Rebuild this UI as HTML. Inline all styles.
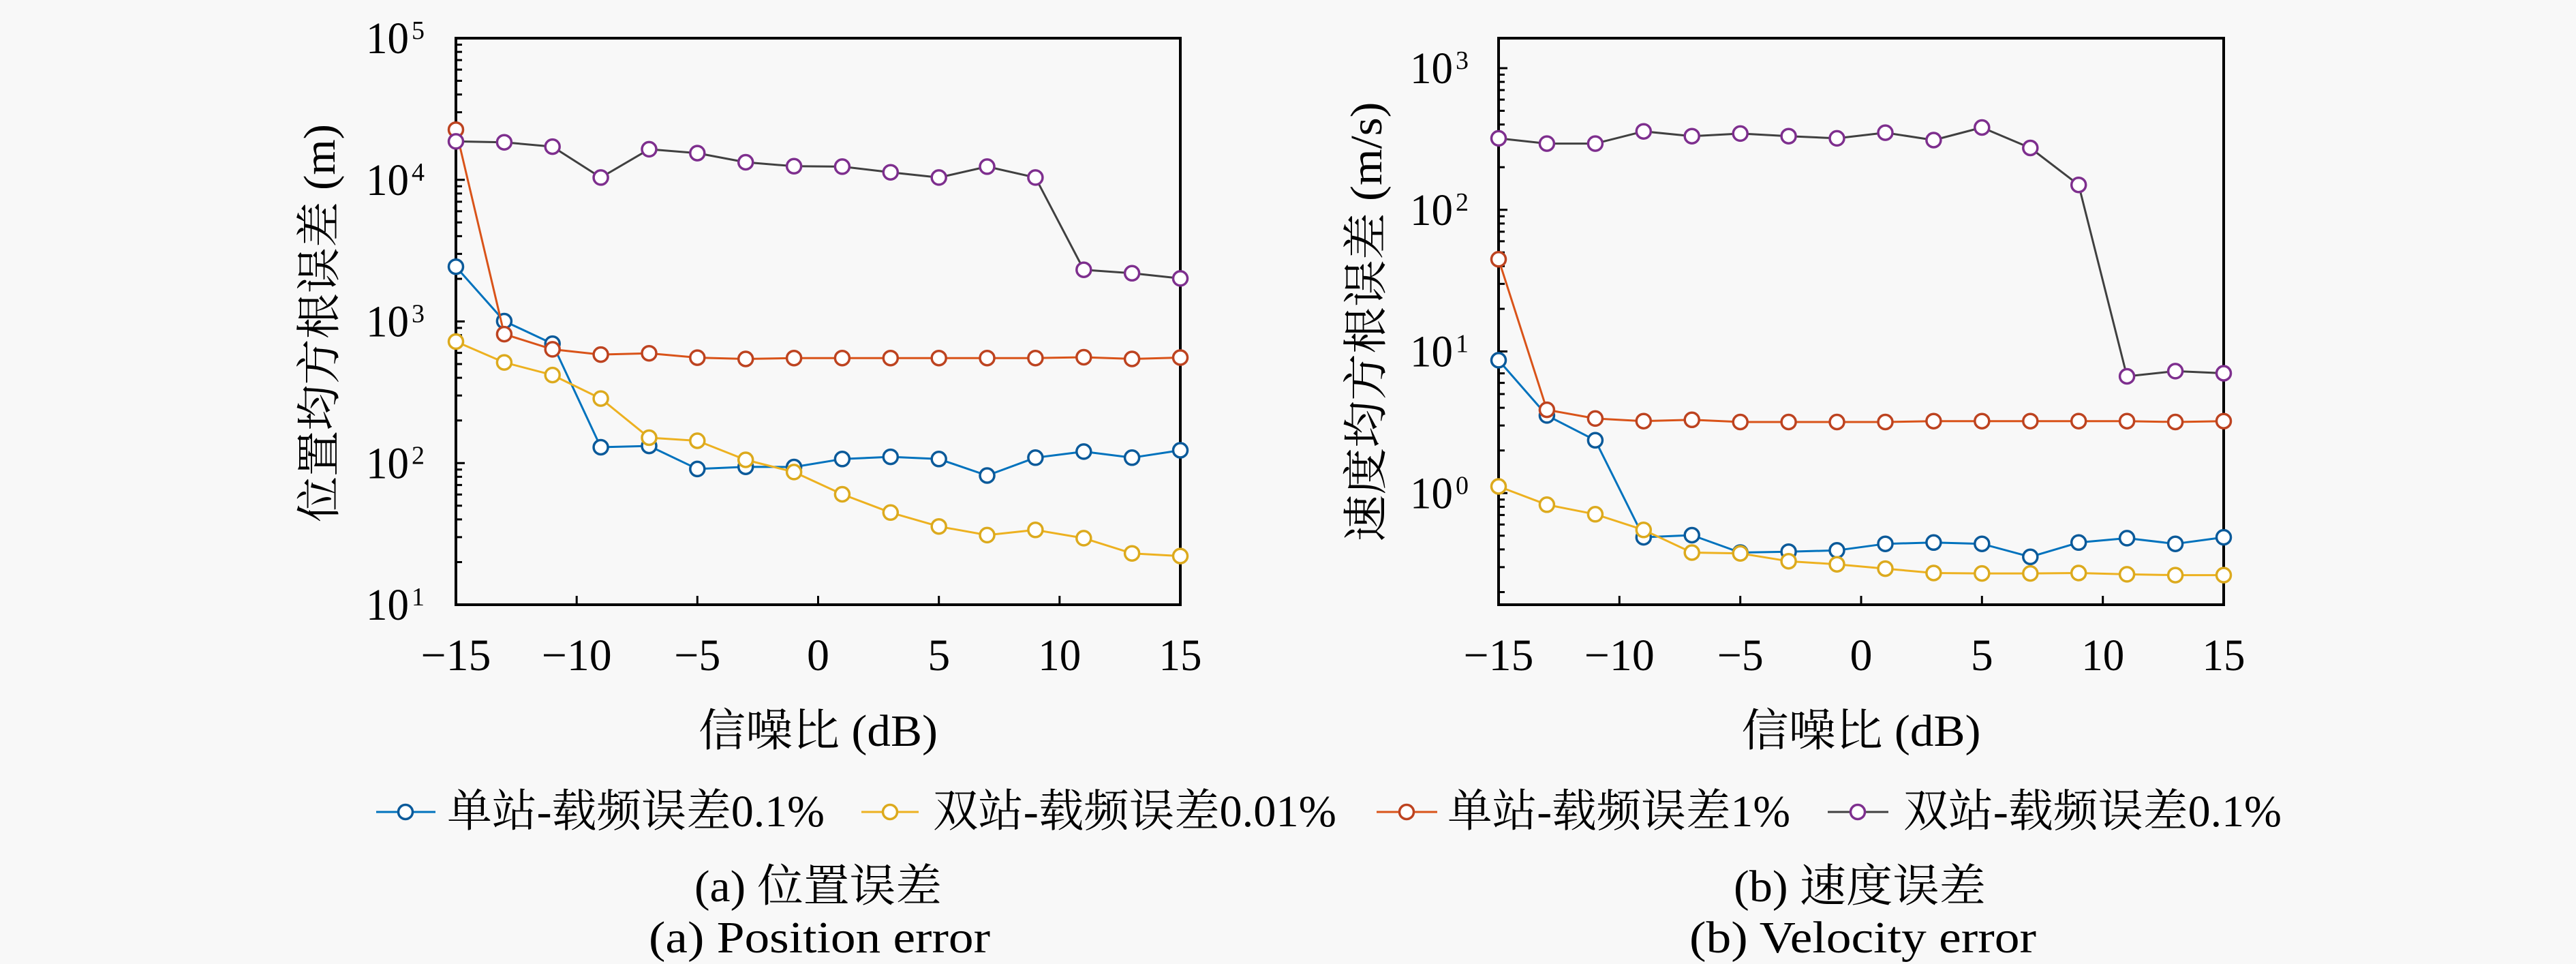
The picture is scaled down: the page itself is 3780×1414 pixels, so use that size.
<!DOCTYPE html>
<html><head><meta charset="utf-8"><style>
html,body{margin:0;padding:0;background:#f8f8f8;}
svg{display:block;}
text{font-family:"Liberation Serif","Noto Serif CJK SC",serif;fill:#000;}
</style></head><body>
<svg width="3780" height="1414" viewBox="0 0 3780 1414" xmlns="http://www.w3.org/2000/svg">
<rect width="3780" height="1414" fill="#f8f8f8"/>

<!-- ============ LEFT PLOT ============ -->
<g fill="none" stroke="#000">
<rect x="669" y="56" width="1063" height="831" stroke-width="4"/>
<path stroke-width="3" d="M846.2,887v-13M1023.3,887v-13M1200.5,887v-13M1377.7,887v-13M1554.8,887v-13
M669,679.25h13M669,471.5h13M669,263.75h13
M669,824.46h9M669,787.88h9M669,761.92h9M669,741.79h9M669,725.34h9M669,711.43h9M669,699.38h9M669,688.76h9
M669,616.71h9M669,580.13h9M669,554.17h9M669,534.04h9M669,517.59h9M669,503.68h9M669,491.63h9M669,481.01h9
M669,408.96h9M669,372.38h9M669,346.42h9M669,326.29h9M669,309.84h9M669,295.93h9M669,283.88h9M669,273.26h9
M669,201.21h9M669,164.63h9M669,138.67h9M669,118.54h9M669,102.09h9M669,88.18h9M669,76.13h9M669,65.51h9"/>
</g>
<!-- left y tick labels -->
<g font-size="66">
<text x="537" y="78" textLength="63" lengthAdjust="spacingAndGlyphs">10</text>
<text x="537" y="285.75" textLength="63" lengthAdjust="spacingAndGlyphs">10</text>
<text x="537" y="493.5" textLength="63" lengthAdjust="spacingAndGlyphs">10</text>
<text x="537" y="701.25" textLength="63" lengthAdjust="spacingAndGlyphs">10</text>
<text x="537" y="909" textLength="63" lengthAdjust="spacingAndGlyphs">10</text>
</g>
<g font-size="38">
<text x="604" y="57">5</text>
<text x="604" y="264.75">4</text>
<text x="604" y="472.5">3</text>
<text x="604" y="680.25">2</text>
<text x="604" y="888">1</text>
</g>
<!-- left x tick labels -->
<g font-size="66" text-anchor="middle">
<text x="669" y="983" textLength="103" lengthAdjust="spacingAndGlyphs">−15</text>
<text x="846.2" y="983" textLength="103" lengthAdjust="spacingAndGlyphs">−10</text>
<text x="1023.3" y="983" textLength="68" lengthAdjust="spacingAndGlyphs">−5</text>
<text x="1200.5" y="983">0</text>
<text x="1377.7" y="983">5</text>
<text x="1554.8" y="983" textLength="63" lengthAdjust="spacingAndGlyphs">10</text>
<text x="1732" y="983" textLength="63" lengthAdjust="spacingAndGlyphs">15</text>
</g>
<text x="1200.5" y="1094" font-size="66" text-anchor="middle" textLength="351" lengthAdjust="spacingAndGlyphs">信噪比 (dB)</text>
<text transform="translate(491,474) rotate(-90)" x="0" y="0" font-size="66" text-anchor="middle" textLength="584" lengthAdjust="spacingAndGlyphs">位置均方根误差 (m)</text>

<!-- left series -->
<g fill="none" stroke-width="3" stroke-linejoin="round">
<polyline stroke="#0072BD" points="669,391.2 739.9,471 810.7,504.1 881.6,656 952.5,654.1 1023.3,687.9 1094.2,684.7 1165.1,685 1235.9,673.3 1306.8,670.1 1377.7,673.3 1448.5,697.5 1519.4,671.3 1590.3,662.4 1661.1,671.3 1732,660.5"/>
</g>
<g fill="#fff" stroke="#0b5a9a" stroke-width="3.5">
<circle cx="669" cy="391.2" r="10.5"/><circle cx="739.9" cy="471" r="10.5"/><circle cx="810.7" cy="504.1" r="10.5"/><circle cx="881.6" cy="656" r="10.5"/><circle cx="952.5" cy="654.1" r="10.5"/><circle cx="1023.3" cy="687.9" r="10.5"/><circle cx="1094.2" cy="684.7" r="10.5"/><circle cx="1165.1" cy="685" r="10.5"/><circle cx="1235.9" cy="673.3" r="10.5"/><circle cx="1306.8" cy="670.1" r="10.5"/><circle cx="1377.7" cy="673.3" r="10.5"/><circle cx="1448.5" cy="697.5" r="10.5"/><circle cx="1519.4" cy="671.3" r="10.5"/><circle cx="1590.3" cy="662.4" r="10.5"/><circle cx="1661.1" cy="671.3" r="10.5"/><circle cx="1732" cy="660.5" r="10.5"/>
</g>
<g fill="none" stroke-width="3" stroke-linejoin="round">
<polyline stroke="#EDB120" points="669,501 739.9,531.6 810.7,550.1 881.6,584.6 952.5,642 1023.3,646.5 1094.2,674.5 1165.1,692.4 1235.9,725 1306.8,751.8 1377.7,772.2 1448.5,784.9 1519.4,777.3 1590.3,789.4 1661.1,811.7 1732,815.6"/>
</g>
<g fill="#fff" stroke="#dcaa1e" stroke-width="3.5">
<circle cx="669" cy="501" r="10.5"/><circle cx="739.9" cy="531.6" r="10.5"/><circle cx="810.7" cy="550.1" r="10.5"/><circle cx="881.6" cy="584.6" r="10.5"/><circle cx="952.5" cy="642" r="10.5"/><circle cx="1023.3" cy="646.5" r="10.5"/><circle cx="1094.2" cy="674.5" r="10.5"/><circle cx="1165.1" cy="692.4" r="10.5"/><circle cx="1235.9" cy="725" r="10.5"/><circle cx="1306.8" cy="751.8" r="10.5"/><circle cx="1377.7" cy="772.2" r="10.5"/><circle cx="1448.5" cy="784.9" r="10.5"/><circle cx="1519.4" cy="777.3" r="10.5"/><circle cx="1590.3" cy="789.4" r="10.5"/><circle cx="1661.1" cy="811.7" r="10.5"/><circle cx="1732" cy="815.6" r="10.5"/>
</g>
<g fill="none" stroke-width="3" stroke-linejoin="round">
<polyline stroke="#D95319" points="669,190.2 739.9,490.1 810.7,512.4 881.6,520.1 952.5,518.2 1023.3,524.6 1094.2,526.5 1165.1,525.2 1235.9,525.2 1306.8,525.2 1377.7,525.2 1448.5,525.2 1519.4,525.2 1590.3,524 1661.1,526.5 1732,524.5"/>
</g>
<g fill="#fff" stroke="#bd4320" stroke-width="3.5">
<circle cx="669" cy="190.2" r="10.5"/><circle cx="739.9" cy="490.1" r="10.5"/><circle cx="810.7" cy="512.4" r="10.5"/><circle cx="881.6" cy="520.1" r="10.5"/><circle cx="952.5" cy="518.2" r="10.5"/><circle cx="1023.3" cy="524.6" r="10.5"/><circle cx="1094.2" cy="526.5" r="10.5"/><circle cx="1165.1" cy="525.2" r="10.5"/><circle cx="1235.9" cy="525.2" r="10.5"/><circle cx="1306.8" cy="525.2" r="10.5"/><circle cx="1377.7" cy="525.2" r="10.5"/><circle cx="1448.5" cy="525.2" r="10.5"/><circle cx="1519.4" cy="525.2" r="10.5"/><circle cx="1590.3" cy="524" r="10.5"/><circle cx="1661.1" cy="526.5" r="10.5"/><circle cx="1732" cy="524.5" r="10.5"/>
</g>
<g fill="none" stroke-width="3" stroke-linejoin="round">
<polyline stroke="#404040" points="669,207.4 739.9,208.7 810.7,215.1 881.6,260.4 952.5,218.9 1023.3,224.6 1094.2,238 1165.1,243.8 1235.9,244.4 1306.8,252.7 1377.7,260.4 1448.5,244.4 1519.4,260.4 1590.3,395.7 1661.1,400.8 1732,408.4"/>
</g>
<g fill="#fff" stroke="#7E2F8E" stroke-width="3.5">
<circle cx="669" cy="207.4" r="10.5"/><circle cx="739.9" cy="208.7" r="10.5"/><circle cx="810.7" cy="215.1" r="10.5"/><circle cx="881.6" cy="260.4" r="10.5"/><circle cx="952.5" cy="218.9" r="10.5"/><circle cx="1023.3" cy="224.6" r="10.5"/><circle cx="1094.2" cy="238" r="10.5"/><circle cx="1165.1" cy="243.8" r="10.5"/><circle cx="1235.9" cy="244.4" r="10.5"/><circle cx="1306.8" cy="252.7" r="10.5"/><circle cx="1377.7" cy="260.4" r="10.5"/><circle cx="1448.5" cy="244.4" r="10.5"/><circle cx="1519.4" cy="260.4" r="10.5"/><circle cx="1590.3" cy="395.7" r="10.5"/><circle cx="1661.1" cy="400.8" r="10.5"/><circle cx="1732" cy="408.4" r="10.5"/>
</g>

<!-- ============ RIGHT PLOT ============ -->
<g fill="none" stroke="#000">
<rect x="2199" y="56" width="1064" height="831" stroke-width="4"/>
<path stroke-width="3" d="M2376.3,887v-13M2553.7,887v-13M2731,887v-13M2908.3,887v-13M3085.7,887v-13
M2199,723.25h13M2199,515.5h13M2199,307.75h13M2199,100h13
M2199,868.46h9M2199,831.88h9M2199,805.92h9M2199,785.79h9M2199,769.34h9M2199,755.43h9M2199,743.38h9M2199,732.76h9
M2199,660.71h9M2199,624.13h9M2199,598.17h9M2199,578.04h9M2199,561.59h9M2199,547.68h9M2199,535.63h9M2199,525.01h9
M2199,452.96h9M2199,416.38h9M2199,390.42h9M2199,370.29h9M2199,353.84h9M2199,339.93h9M2199,327.88h9M2199,317.26h9
M2199,245.21h9M2199,208.63h9M2199,182.67h9M2199,162.54h9M2199,146.09h9M2199,132.18h9M2199,120.13h9M2199,109.51h9"/>
</g>
<g font-size="66">
<text x="2069" y="122" textLength="63" lengthAdjust="spacingAndGlyphs">10</text>
<text x="2069" y="329.75" textLength="63" lengthAdjust="spacingAndGlyphs">10</text>
<text x="2069" y="537.5" textLength="63" lengthAdjust="spacingAndGlyphs">10</text>
<text x="2069" y="745.25" textLength="63" lengthAdjust="spacingAndGlyphs">10</text>
</g>
<g font-size="38">
<text x="2136" y="101">3</text>
<text x="2136" y="308.75">2</text>
<text x="2136" y="516.5">1</text>
<text x="2136" y="724.25">0</text>
</g>
<g font-size="66" text-anchor="middle">
<text x="2199" y="983" textLength="103" lengthAdjust="spacingAndGlyphs">−15</text>
<text x="2376.3" y="983" textLength="103" lengthAdjust="spacingAndGlyphs">−10</text>
<text x="2553.7" y="983" textLength="68" lengthAdjust="spacingAndGlyphs">−5</text>
<text x="2731" y="983">0</text>
<text x="2908.3" y="983">5</text>
<text x="3085.7" y="983" textLength="63" lengthAdjust="spacingAndGlyphs">10</text>
<text x="3263" y="983" textLength="63" lengthAdjust="spacingAndGlyphs">15</text>
</g>
<text x="2731" y="1094" font-size="66" text-anchor="middle" textLength="351" lengthAdjust="spacingAndGlyphs">信噪比 (dB)</text>
<text transform="translate(2027,472) rotate(-90)" x="0" y="0" font-size="66" text-anchor="middle" textLength="645" lengthAdjust="spacingAndGlyphs">速度均方根误差 (m/s)</text>

<g fill="none" stroke-width="3" stroke-linejoin="round">
<polyline stroke="#0072BD" points="2199,528.4 2269.9,609.4 2340.9,645.8 2411.8,788.1 2482.7,785 2553.7,810.5 2624.6,809.2 2695.5,807.3 2766.5,797.7 2837.4,795.8 2908.3,797.7 2979.3,816.8 3050.2,795.8 3121.1,789.4 3192.1,797.7 3263,788.1"/>
</g>
<g fill="#fff" stroke="#0b5a9a" stroke-width="3.5">
<circle cx="2199" cy="528.4" r="10.5"/><circle cx="2269.9" cy="609.4" r="10.5"/><circle cx="2340.9" cy="645.8" r="10.5"/><circle cx="2411.8" cy="788.1" r="10.5"/><circle cx="2482.7" cy="785" r="10.5"/><circle cx="2553.7" cy="810.5" r="10.5"/><circle cx="2624.6" cy="809.2" r="10.5"/><circle cx="2695.5" cy="807.3" r="10.5"/><circle cx="2766.5" cy="797.7" r="10.5"/><circle cx="2837.4" cy="795.8" r="10.5"/><circle cx="2908.3" cy="797.7" r="10.5"/><circle cx="2979.3" cy="816.8" r="10.5"/><circle cx="3050.2" cy="795.8" r="10.5"/><circle cx="3121.1" cy="789.4" r="10.5"/><circle cx="3192.1" cy="797.7" r="10.5"/><circle cx="3263" cy="788.1" r="10.5"/>
</g>
<g fill="none" stroke-width="3" stroke-linejoin="round">
<polyline stroke="#EDB120" points="2199,713.5 2269.9,740.3 2340.9,754.3 2411.8,777.3 2482.7,810.5 2553.7,811.7 2624.6,823.2 2695.5,827.7 2766.5,834.1 2837.4,840.5 2908.3,841.1 2979.3,841.1 3050.2,840.5 3121.1,842.4 3192.1,843.6 3263,843.6"/>
</g>
<g fill="#fff" stroke="#dcaa1e" stroke-width="3.5">
<circle cx="2199" cy="713.5" r="10.5"/><circle cx="2269.9" cy="740.3" r="10.5"/><circle cx="2340.9" cy="754.3" r="10.5"/><circle cx="2411.8" cy="777.3" r="10.5"/><circle cx="2482.7" cy="810.5" r="10.5"/><circle cx="2553.7" cy="811.7" r="10.5"/><circle cx="2624.6" cy="823.2" r="10.5"/><circle cx="2695.5" cy="827.7" r="10.5"/><circle cx="2766.5" cy="834.1" r="10.5"/><circle cx="2837.4" cy="840.5" r="10.5"/><circle cx="2908.3" cy="841.1" r="10.5"/><circle cx="2979.3" cy="841.1" r="10.5"/><circle cx="3050.2" cy="840.5" r="10.5"/><circle cx="3121.1" cy="842.4" r="10.5"/><circle cx="3192.1" cy="843.6" r="10.5"/><circle cx="3263" cy="843.6" r="10.5"/>
</g>
<g fill="none" stroke-width="3" stroke-linejoin="round">
<polyline stroke="#D95319" points="2199,380.3 2269.9,601.1 2340.9,613.9 2411.8,617.7 2482.7,615.8 2553.7,619 2624.6,619 2695.5,619 2766.5,619 2837.4,617.7 2908.3,617.7 2979.3,617.7 3050.2,617.7 3121.1,617.7 3192.1,619 3263,617.7"/>
</g>
<g fill="#fff" stroke="#bd4320" stroke-width="3.5">
<circle cx="2199" cy="380.3" r="10.5"/><circle cx="2269.9" cy="601.1" r="10.5"/><circle cx="2340.9" cy="613.9" r="10.5"/><circle cx="2411.8" cy="617.7" r="10.5"/><circle cx="2482.7" cy="615.8" r="10.5"/><circle cx="2553.7" cy="619" r="10.5"/><circle cx="2624.6" cy="619" r="10.5"/><circle cx="2695.5" cy="619" r="10.5"/><circle cx="2766.5" cy="619" r="10.5"/><circle cx="2837.4" cy="617.7" r="10.5"/><circle cx="2908.3" cy="617.7" r="10.5"/><circle cx="2979.3" cy="617.7" r="10.5"/><circle cx="3050.2" cy="617.7" r="10.5"/><circle cx="3121.1" cy="617.7" r="10.5"/><circle cx="3192.1" cy="619" r="10.5"/><circle cx="3263" cy="617.7" r="10.5"/>
</g>
<g fill="none" stroke-width="3" stroke-linejoin="round">
<polyline stroke="#404040" points="2199,202.9 2269.9,210.6 2340.9,210.6 2411.8,192.7 2482.7,199.7 2553.7,195.9 2624.6,199.7 2695.5,202.9 2766.5,194.6 2837.4,205.5 2908.3,187 2979.3,217 3050.2,271.2 3121.1,552 3192.1,544.4 3263,547.5"/>
</g>
<g fill="#fff" stroke="#7E2F8E" stroke-width="3.5">
<circle cx="2199" cy="202.9" r="10.5"/><circle cx="2269.9" cy="210.6" r="10.5"/><circle cx="2340.9" cy="210.6" r="10.5"/><circle cx="2411.8" cy="192.7" r="10.5"/><circle cx="2482.7" cy="199.7" r="10.5"/><circle cx="2553.7" cy="195.9" r="10.5"/><circle cx="2624.6" cy="199.7" r="10.5"/><circle cx="2695.5" cy="202.9" r="10.5"/><circle cx="2766.5" cy="194.6" r="10.5"/><circle cx="2837.4" cy="205.5" r="10.5"/><circle cx="2908.3" cy="187" r="10.5"/><circle cx="2979.3" cy="217" r="10.5"/><circle cx="3050.2" cy="271.2" r="10.5"/><circle cx="3121.1" cy="552" r="10.5"/><circle cx="3192.1" cy="544.4" r="10.5"/><circle cx="3263" cy="547.5" r="10.5"/>
</g>

<!-- ============ LEGEND ============ -->
<g stroke-width="3">
<line x1="552" y1="1191" x2="639" y2="1191" stroke="#0072BD"/>
<circle cx="595" cy="1191" r="10.5" fill="#fff" stroke="#0b5a9a" stroke-width="3.5"/>
<line x1="1264" y1="1191" x2="1348" y2="1191" stroke="#EDB120"/>
<circle cx="1306" cy="1191" r="10.5" fill="#fff" stroke="#dcaa1e" stroke-width="3.5"/>
<line x1="2020" y1="1191" x2="2109" y2="1191" stroke="#D95319"/>
<circle cx="2064" cy="1191" r="10.5" fill="#fff" stroke="#bd4320" stroke-width="3.5"/>
<line x1="2682" y1="1191" x2="2771" y2="1191" stroke="#404040"/>
<circle cx="2726" cy="1191" r="10.5" fill="#fff" stroke="#7E2F8E" stroke-width="3.5"/>
</g>
<g font-size="66">
<text x="656" y="1212" textLength="554" lengthAdjust="spacingAndGlyphs">单站-载频误差0.1%</text>
<text x="1369" y="1212" textLength="592" lengthAdjust="spacingAndGlyphs">双站-载频误差0.01%</text>
<text x="2124" y="1212" textLength="503" lengthAdjust="spacingAndGlyphs">单站-载频误差1%</text>
<text x="2793" y="1212" textLength="555" lengthAdjust="spacingAndGlyphs">双站-载频误差0.1%</text>
</g>

<!-- ============ CAPTIONS ============ -->
<g font-size="66">
<text x="1019" y="1322" textLength="363" lengthAdjust="spacingAndGlyphs">(a) 位置误差</text>
<text x="952" y="1397" textLength="501" lengthAdjust="spacingAndGlyphs">(a) Position error</text>
<text x="2544" y="1322" textLength="370" lengthAdjust="spacingAndGlyphs">(b) 速度误差</text>
<text x="2479" y="1397" textLength="509" lengthAdjust="spacingAndGlyphs">(b) Velocity error</text>
</g>
</svg>
</body></html>
